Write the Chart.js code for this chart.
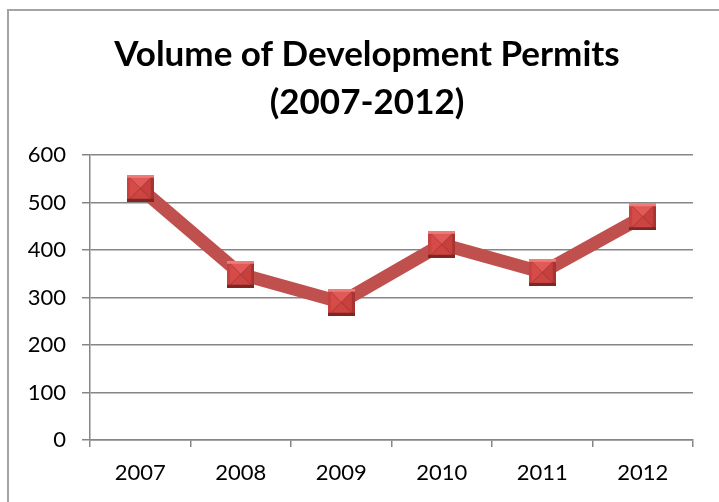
<!DOCTYPE html>
<html>
<head>
<meta charset="utf-8">
<script src="https://cdn.jsdelivr.net/npm/chart.js@4/dist/chart.umd.min.js"></script>
<style>
  html, body { margin: 0; padding: 0; background: #fff; overflow: hidden; }
  #wrap { position: relative; width: 719px; height: 502px; }
  #frame { position: absolute; left: 7px; top: 9px; width: 800px; height: 600px;
           border-left: 2px solid #a4a4a4; border-top: 2px solid #a4a4a4; pointer-events: none; }
</style>
</head>
<body>
<div id="wrap">
  <canvas id="myChart" width="719" height="502"></canvas>
  <div id="frame"></div>
</div>
<script>
const years = ['2007', '2008', '2009', '2010', '2011', '2012'];
const permits = [530, 349, 290, 412, 353, 470];
const yTicks = [0, 100, 200, 300, 400, 500, 600];
const titleLines = ['Volume of Development Permits', '(2007-2012)'];

// bevelled square marker, drawn once and reused as the point style
function makeMarker(size) {
  const c = document.createElement('canvas');
  c.width = size; c.height = size;
  const g = c.getContext('2d');
  const m = size / 2, e = 3;
  g.fillStyle = '#7f2623';
  g.fillRect(0, 0, size, size);
  g.fillStyle = '#f07c78';
  g.fillRect(0, 0, size, e);
  g.fillStyle = '#c6423f';
  g.fillRect(0, e, e, size - 2 * e);
  g.fillStyle = '#a63532';
  g.fillRect(size - e, e, e, size - 2 * e);
  const tri = (pts, col) => {
    g.beginPath();
    g.moveTo(pts[0], pts[1]); g.lineTo(pts[2], pts[3]); g.lineTo(m, m);
    g.closePath(); g.fillStyle = col; g.fill();
  };
  tri([e, e, size - e, e], '#e25a57');
  tri([e, e, e, size - e], '#d64b48');
  tri([size - e, e, size - e, size - e], '#c8403d');
  tri([e, size - e, size - e, size - e], '#cc4542');
  g.strokeStyle = 'rgba(120,30,28,0.25)';
  g.lineWidth = 1;
  g.beginPath();
  g.moveTo(e, e); g.lineTo(size - e, size - e);
  g.moveTo(size - e, e); g.lineTo(e, size - e);
  g.stroke();
  return c;
}
const marker = makeMarker(27);

// two-line heading, centred on the whole chart frame rather than the plot box
const headingPlugin = {
  id: 'heading',
  afterDraw(chart) {
    const ctx = chart.ctx;
    ctx.save();
    ctx.fillStyle = '#000';
    ctx.font = 'bold 35px Lato';
    ctx.textAlign = 'center';
    ctx.textBaseline = 'alphabetic';
    ctx.fillText(titleLines[0], 367, 66);
    ctx.fillText(titleLines[1], 367, 114);
    ctx.restore();
  }
};

const gridColor = '#868686';

new Chart(document.getElementById('myChart'), {
  type: 'line',
  data: {
    labels: years,
    datasets: [{
      data: permits,
      borderColor: '#c0504d',
      borderWidth: 13,
      pointStyle: marker,
      pointRadius: 13,
      tension: 0
    }]
  },
  options: {
    responsive: false,
    devicePixelRatio: 1,
    animation: false,
    layout: { padding: { left: 0, right: 23, top: 155, bottom: 0 } },
    plugins: {
      legend: { display: false },
      tooltip: { enabled: false },
      title: { display: false }
    },
    scales: {
      x: {
        offset: true,
        grid: { offset: true, drawOnChartArea: false, color: gridColor, lineWidth: 1.5, tickLength: 7 },
        border: { color: gridColor, width: 1.5 },
        ticks: { color: '#000', font: { family: 'Lato', size: 22 }, padding: 13, maxRotation: 0 },
        afterFit: s => { s.height = 62; }
      },
      y: {
        min: yTicks[0],
        max: yTicks[yTicks.length - 1],
        afterBuildTicks: s => { s.ticks = yTicks.map(v => ({ value: v })); },
        grid: { color: gridColor, lineWidth: 1.5, tickLength: 8 },
        border: { color: gridColor, width: 1.5 },
        ticks: { color: '#000', font: { family: 'Lato', size: 22 }, padding: 16 },
        afterFit: s => { s.width = 90; }
      }
    }
  },
  plugins: [headingPlugin]
});
</script>
</body>
</html>
